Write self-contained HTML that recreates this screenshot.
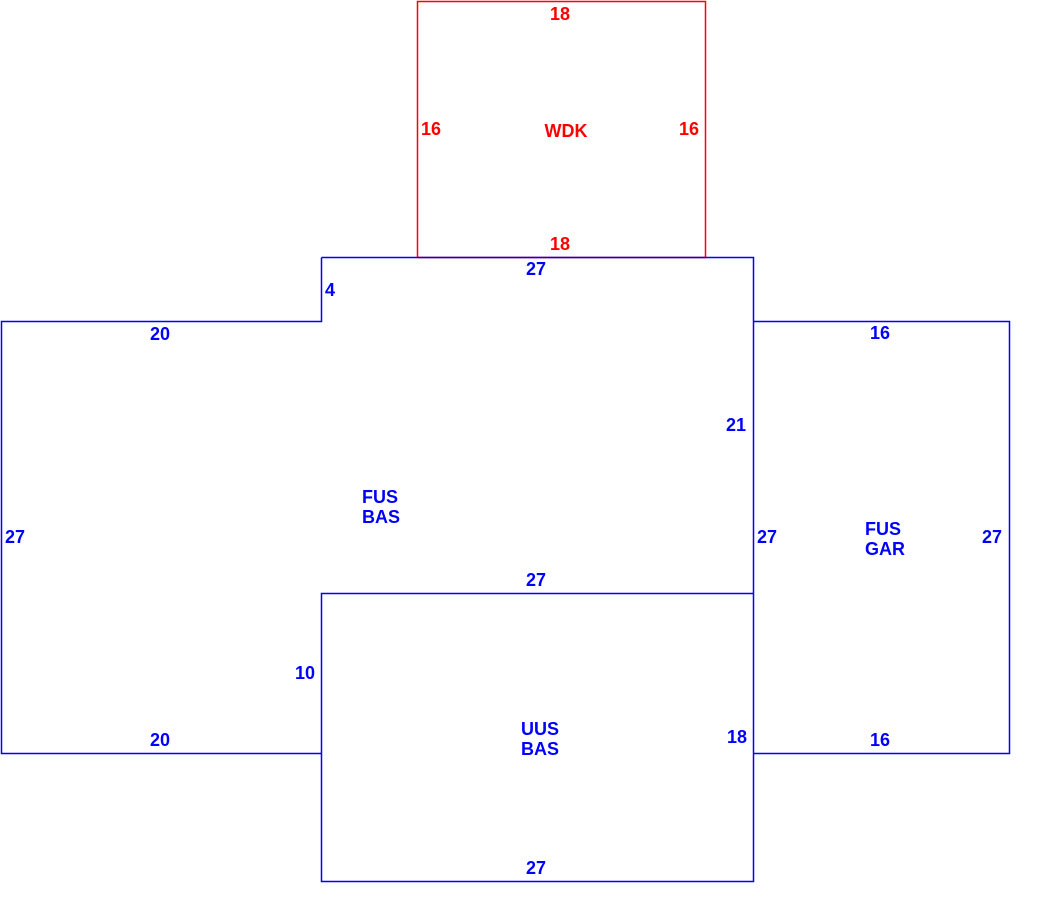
<!DOCTYPE html>
<html><head><style>html,body{margin:0;padding:0;background:#fff}</style></head><body>
<svg width="1045" height="921" xmlns="http://www.w3.org/2000/svg" style="display:block">
<rect x="417.5" y="1.5" width="288" height="256" fill="none" stroke="#ff0000" stroke-width="1.5"/>
<path d="M321.5 257.5H753.5V881.5H321.5V593.5M321.5 257.5V321.5H1.5V753.5H321.5V593.5H753.5" fill="none" stroke="#0000ff" stroke-width="1.5"/>
<path d="M753.5 321.5H1009.5V753.5H753.5" fill="none" stroke="#0000ff" stroke-width="1.5"/>
<g font-family="Liberation Sans, sans-serif" font-weight="bold" font-size="18" text-anchor="middle">
<g fill="#ff0000">
<text x="560" y="20">18</text>
<text x="431" y="135">16</text>
<text x="566" y="137">WDK</text>
<text x="689" y="135">16</text>
<text x="560" y="250">18</text>
</g>
<g fill="#0000ff">
<text x="536" y="275">27</text>
<text x="330" y="296">4</text>
<text x="160" y="340">20</text>
<text x="880" y="339">16</text>
<text x="736" y="431">21</text>
<text x="380" y="503">FUS</text>
<text x="381" y="523">BAS</text>
<text x="15" y="543">27</text>
<text x="767" y="543">27</text>
<text x="883" y="535">FUS</text>
<text x="885" y="555">GAR</text>
<text x="992" y="543">27</text>
<text x="536" y="586">27</text>
<text x="305" y="679">10</text>
<text x="540" y="735">UUS</text>
<text x="540" y="755">BAS</text>
<text x="737" y="743">18</text>
<text x="160" y="746">20</text>
<text x="880" y="746">16</text>
<text x="536" y="874">27</text>
</g></g>
</svg>
</body></html>
